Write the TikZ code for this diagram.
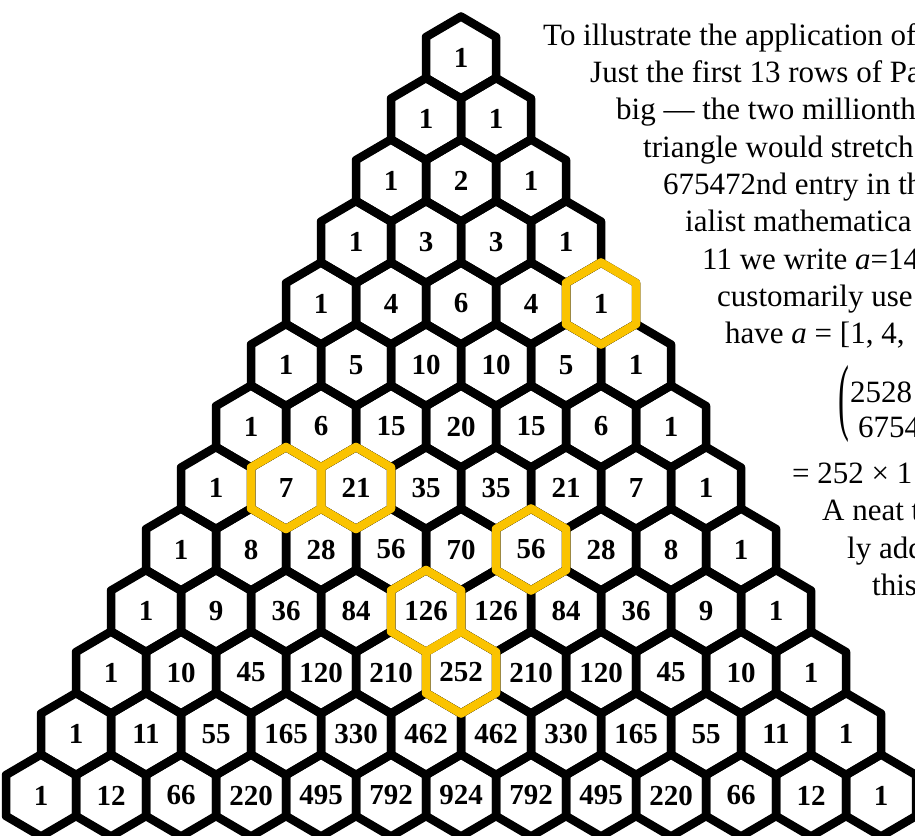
\documentclass[tikz,border=0pt]{standalone}
\usepackage{fontspec}
\usepackage{graphicx}
\setmainfont{Liberation Serif}
\definecolor{hexgold}{RGB}{250,195,0}
\tikzset{
  hexline/.style={line width=8.5pt, line join=round, draw=black},
  goldline/.style={line width=8.5pt, line join=round, draw=hexgold},
  numlabel/.style={inner sep=0pt, font=\fontsize{29}{29}\selectfont\bfseries},
  txt/.style={anchor=base west, inner sep=0pt, font=\fontsize{31}{37}\selectfont},
}
\begin{document}
\begin{tikzpicture}[x=1pt,y=-1pt]
\useasboundingbox (0,0) rectangle (915,835);
\clip (0,0) rectangle (915,835);
\fill[white] (0,0) rectangle (915,835);
% hexagon outlines
\foreach \r/\n in {0/0,1/1,2/2,3/3,4/4,5/5,6/6,7/7,8/8,9/9,10/10,11/11,12/12}{
  \foreach \k in {0,...,\n}{
    \pgfmathsetmacro\cx{461+(\k-\r/2)*70}
    \pgfmathsetmacro\cy{57.5+\r*61.5}
    \draw[hexline] (\cx,\cy) +(0,-41) -- +(35,-20.5) -- +(35,20.5) -- +(0,41) -- +(-35,20.5) -- +(-35,-20.5) -- cycle;
  }
}
% highlighted hexagons
\foreach \r/\k in {4/4,7/1,7/2,8/5,9/4,10/5}{
  \pgfmathsetmacro\cx{461+(\k-\r/2)*70}
  \pgfmathsetmacro\cy{57.5+\r*61.5}
  \draw[goldline] (\cx,\cy) +(0,-41) -- +(35,-20.5) -- +(35,20.5) -- +(0,41) -- +(-35,20.5) -- +(-35,-20.5) -- cycle;
}
% numbers
\foreach \r/\vals in {
  0/{1},
  1/{1,1},
  2/{1,2,1},
  3/{1,3,3,1},
  4/{1,4,6,4,1},
  5/{1,5,10,10,5,1},
  6/{1,6,15,20,15,6,1},
  7/{1,7,21,35,35,21,7,1},
  8/{1,8,28,56,70,56,28,8,1},
  9/{1,9,36,84,126,126,84,36,9,1},
  10/{1,10,45,120,210,252,210,120,45,10,1},
  11/{1,11,55,165,330,462,462,330,165,55,11,1},
  12/{1,12,66,220,495,792,924,792,495,220,66,12,1}}{
  \foreach \v [count=\j from 0] in \vals {
    \pgfmathsetmacro\cx{461+(\j-\r/2)*70}
    \pgfmathsetmacro\cy{57.5+\r*61.5}
    \node[numlabel] (h\r-\j) at (\cx,\cy) {\v};
  }
}
% text on the right
\node[txt] (t1) at (543,45) {To illustrate the application of};
\node[txt] (t2) at (590,82) {Just the first 13 rows of Pa};
\node[txt] (t3) at (616,119) {big — the two millionth};
\node[txt] (t4) at (643,157) {triangle would stretch};
\node[txt] (t5) at (663,194) {675472nd entry in th};
\node[txt] (t6) at (685,231) {ialist mathematica};
\node[txt] (t7) at (702,269) {11 we write \textit{a}=14};
\node[txt] (t8) at (717,306) {customarily use};
\node[txt] (t9) at (725,343) {have \textit{a} = [1, 4,};
\node[anchor=west, inner sep=0pt, font=\fontsize{31}{37}\selectfont] (bp) at (838,404) {\scalebox{1.05}[2.75]{(}};
\node[txt] (b1) at (850,402) {2528};
\node[txt] (b2) at (858,437) {6754};
\node[txt] (t11) at (792,483) {= 252 × 1};
\node[txt] (t12) at (822,520) {A neat t};
\node[txt] (t13) at (847,558) {ly add};
\node[txt] (t14) at (872,595) {this};
\end{tikzpicture}
\end{document}
